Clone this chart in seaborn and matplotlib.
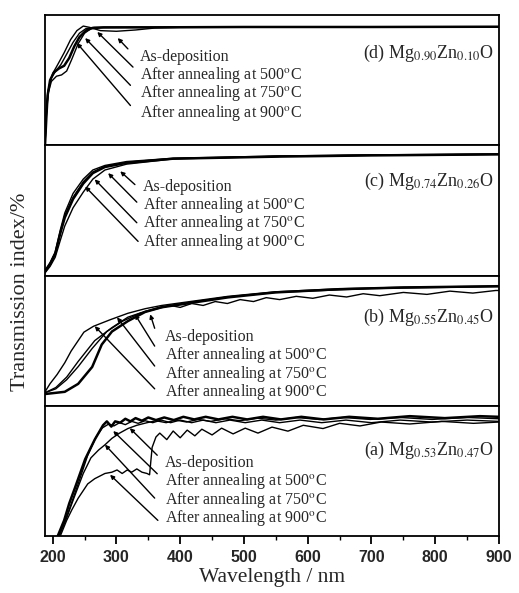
import matplotlib
matplotlib.use("Agg")
import matplotlib.pyplot as plt
import seaborn as sns
from matplotlib.ticker import MultipleLocator

sns.set_theme(style="white")
plt.rcParams["font.family"] = ["Liberation Serif", "DejaVu Serif"]
plt.rcParams["mathtext.fontset"] = "stix"

# ---- data (wavelength nm, transmission index, panel scale 0-100) ----
# (d) Mg0.90Zn0.10O
d_as_wl = [188, 190, 192, 196, 202, 210, 218, 226, 234, 242, 252, 262, 280, 350, 500, 700, 900]
d_as_t = [0, 20, 38, 50, 56, 59, 61, 67, 76, 83, 88, 90, 90.5, 90.5, 90.8, 90.8, 91]
d_500_wl = [188, 190, 193, 198, 205, 213, 222, 232, 242, 252, 265, 300, 500, 900]
d_500_t = [0, 24, 42, 52, 57, 62, 70, 79, 86, 89.5, 90.5, 90.5, 90.8, 91]
d_750_wl = [188, 190, 193, 198, 206, 214, 222, 230, 240, 250, 260, 275, 320, 900]
d_750_t = [0, 22, 40, 49, 53, 54, 57, 66, 78, 86, 89.5, 90.3, 90.5, 90.8]
d_900_wl = [188, 190, 194, 200, 208, 218, 228, 238, 248, 258, 275, 300, 330, 360, 400, 900]
d_900_t = [0, 26, 45, 55, 62, 71, 81, 88, 91.5, 90.5, 88, 87.5, 88.5, 90, 90.5, 90.8]

# (c) Mg0.74Zn0.26O
c_as_wl = [188, 196, 204, 212, 219, 232, 248, 263, 282, 316, 389, 556, 700, 900]
c_as_t = [3, 8.7, 16.7, 32.5, 44.4, 58.7, 70.6, 78.6, 83.3, 86.5, 89.7, 91.3, 92.2, 93]
c_500_wl = [188, 196, 204, 212, 219, 232, 248, 263, 282, 316, 389, 556, 700, 900]
c_500_t = [2, 7, 14, 27, 38, 52, 64, 74, 81, 85.5, 89.5, 91.5, 92.3, 93]
c_750_wl = [188, 196, 204, 212, 219, 232, 248, 263, 282, 316, 389, 556, 700, 900]
c_750_t = [4, 10, 18, 35, 48, 63, 74, 81, 84.5, 87.5, 90, 91.8, 92.6, 93.3]
c_900_wl = [188, 196, 204, 212, 219, 232, 248, 263, 282, 316, 389, 556, 700, 900]
c_900_t = [3, 9, 17, 33, 46, 60, 72, 79.5, 83.8, 86.8, 89.8, 91.5, 92.4, 93.1]

# (b) Mg0.55Zn0.45O
b_as_wl = [188, 196, 207, 219, 229, 249, 264, 290, 318, 345, 371, 423, 475, 549, 650, 750, 900]
b_as_t = [10.7, 17, 24, 33, 42, 56.5, 61, 66, 71, 74.5, 77, 80.5, 84, 87.5, 89.8, 91, 91.8]
b_500_wl = [188, 205, 222, 240, 266, 293, 318, 345, 371, 423, 475, 549, 700, 900]
b_500_t = [10, 14, 22, 34, 50, 60, 68, 72.5, 76, 80, 83.5, 87, 90, 91.5]
b_750_wl = [188, 205, 222, 240, 262, 285, 310, 337, 364, 385, 400, 418, 436, 455, 474, 494,
            515, 535, 556, 582, 608, 634, 661, 687, 713, 750, 787, 823, 859, 895, 900]
b_750_t = [10, 13, 20, 30, 44, 57, 65, 71, 74.5, 77, 75.5, 78.5, 77, 80, 78.5, 81.5,
           80, 83, 81.5, 84, 82.5, 85, 83.5, 86, 84.5, 87, 85.5, 88, 86.5, 88.5, 88.5]
b_900_wl = [188, 219, 240, 262, 277, 293, 318, 345, 371, 423, 475, 549, 650, 750, 900]
b_900_t = [9, 10.7, 16.8, 29.8, 47, 57, 65, 72, 75.6, 79.4, 83.2, 87, 89.5, 90.8, 91.8]

# (a) Mg0.53Zn0.47O
a_as_wl = [208, 218, 226, 235, 251, 266, 279, 285, 292, 298, 306, 314, 322, 330, 340, 350, 362,
           375, 390, 405, 422, 440, 460, 482, 505, 530, 558, 590, 625, 665, 710, 760, 815, 870, 900]
a_as_t = [0, 12, 25, 37, 59, 74, 85, 88, 84, 88, 87, 90, 88, 90.5, 88.5, 91, 89,
          91, 89, 91.5, 89.5, 91.5, 89.5, 91.5, 89.5, 91.5, 89.5, 91.5, 89.5, 91.5, 90, 92, 90.5, 92, 91.5]
a_500_wl = [210, 220, 230, 240, 255, 268, 278, 288, 296, 305, 314, 324, 334, 345, 357, 370, 385,
            400, 418, 436, 456, 478, 502, 528, 556, 588, 622, 660, 700, 745, 795, 850, 900]
a_500_t = [0, 12, 26, 40, 62, 76, 83, 86, 84.5, 87, 85.5, 88, 86.5, 88.5, 87, 89, 87,
           89, 87, 89, 87, 89, 87, 89, 87, 89, 87, 89, 87, 89, 87.5, 89, 88]
a_750_wl = [210, 222, 234, 248, 260, 272, 282, 293, 305, 318, 332, 348, 362, 378, 393, 410, 428,
            448, 470, 494, 520, 550, 582, 618, 656, 698, 745, 795, 850, 900]
a_750_t = [0, 14, 30, 48, 60, 66, 70, 75, 79, 82.5, 85, 87, 88.5, 87, 89, 87.5, 89.5,
           88, 90, 88.5, 90.5, 89, 91, 89.5, 91, 89.5, 91, 89.5, 91, 90]
a_900_wl = [212, 222, 230, 240, 255, 266, 282, 293, 301, 309, 317, 324, 332, 340, 348, 352,
            356, 362, 368, 379, 389, 400, 411, 423, 434, 450, 465, 483, 502, 522, 544,
            569, 593, 624, 650, 682, 715, 760, 810, 860, 900]
a_900_t = [0, 12, 20, 29, 40, 44, 48, 49, 50.7, 48, 50.7, 49, 51.5, 49, 48, 47,
           68, 76, 79, 74, 80.6, 75.4, 81.3, 76.9, 82, 77.6, 82.8, 78.4, 82.8, 79, 83.6,
           80.5, 85, 82.5, 86.5, 84.5, 87.5, 86, 88, 86.5, 87.5]

PANEL_TITLES = [
    "(d) Mg$_{0.90}$Zn$_{0.10}$O",
    "(c) Mg$_{0.74}$Zn$_{0.26}$O",
    "(b) Mg$_{0.55}$Zn$_{0.45}$O",
    "(a) Mg$_{0.53}$Zn$_{0.47}$O",
]
CURVE_LABELS = [
    "As-deposition",
    "After annealing at 500$^{\\mathrm{o}}$C",
    "After annealing at 750$^{\\mathrm{o}}$C",
    "After annealing at 900$^{\\mathrm{o}}$C",
]

PANELS = [
    [(d_as_wl, d_as_t), (d_500_wl, d_500_t), (d_750_wl, d_750_t), (d_900_wl, d_900_t)],
    [(c_as_wl, c_as_t), (c_500_wl, c_500_t), (c_750_wl, c_750_t), (c_900_wl, c_900_t)],
    [(b_as_wl, b_as_t), (b_500_wl, b_500_t), (b_750_wl, b_750_t), (b_900_wl, b_900_t)],
    [(a_as_wl, a_as_t), (a_500_wl, a_500_t), (a_750_wl, a_750_t), (a_900_wl, a_900_t)],
]
# which curve is drawn heavier in each panel
THICK = [0, 0, 3, 0]

# annotation layout: arrow tip on curve, arrow tail (data coords)
ARROW_TIPS = [
    [(302, 82.3), (270, 87), (251, 82.3), (238, 78.5)],
    [(306, 80), (287, 78.6), (266, 73.8), (251, 68.3)],
    [(353, 70.2), (329, 70.2), (301, 67.9), (266, 61.1)],
    [(321, 82.8), (295, 80.6), (282, 70.1), (290, 47)],
]
ARROW_TAILS = [
    [(318, 74), (326, 60), (322, 46), (322, 30.5)],
    [(329, 69.8), (332, 56.3), (332, 40.5), (334, 26.2)],
    [(360, 59.5), (360, 45.8), (360, 30.5), (360, 13)],
    [(364, 62), (364, 47.8), (360, 29.1), (365, 12)],
]
# label lines: left x and baseline of each line
TEXT_X = [337, 342, 376, 376]
TEXT_BASE = [
    [64.6, 50.8, 36.9, 21.8],
    [65.0, 51.0, 37.0, 23.0],
    [49.6, 35.6, 21.6, 7.6],
    [53.0, 38.8, 24.6, 10.4],
]
TITLE_Y = [70.8, 72, 68, 66]

W, H = 519, 593
fig, axes = plt.subplots(4, 1, figsize=(W / 100, H / 100), dpi=100, sharex=True)
fig.subplots_adjust(left=45 / W, right=499 / W, top=1 - 15 / H, bottom=1 - 536 / H, hspace=0)

for i, ax in enumerate(axes):
    for j, (wl, t) in enumerate(PANELS[i]):
        sns.lineplot(x=wl, y=t, ax=ax, color="black", estimator=None, sort=False,
                     linewidth=1.8 if j == THICK[i] else 1.0)
    for j, label in enumerate(CURVE_LABELS):
        ax.annotate("", xy=ARROW_TIPS[i][j], xytext=ARROW_TAILS[i][j],
                    arrowprops=dict(arrowstyle="-|>", color="black", lw=1.0,
                                    mutation_scale=6, shrinkA=0, shrinkB=0))
        ax.text(TEXT_X[i], TEXT_BASE[i][j], label, fontsize=11.5,
                ha="left", va="baseline")
    ax.text(892, TITLE_Y[i], PANEL_TITLES[i], fontsize=13, ha="right", va="center")
    ax.set_xlim(188, 900)
    ax.set_ylim(0, 100)
    ax.set_yticks([])
    ax.set_ylabel("")
    for sp in ax.spines.values():
        sp.set_linewidth(1.3)
        sp.set_color("black")
    ax.tick_params(axis="x", bottom=False, labelbottom=False)

ax = axes[-1]
ax.xaxis.set_major_locator(MultipleLocator(100))
ax.xaxis.set_minor_locator(MultipleLocator(50))
ax.tick_params(axis="x", which="major", bottom=True, labelbottom=True, direction="out",
               length=6, width=1.3, pad=4, labelsize=11.5, color="black")
ax.tick_params(axis="x", which="minor", bottom=True, direction="out", length=3, width=1.0,
               color="black")
for lab in ax.get_xticklabels():
    lab.set_fontfamily("Liberation Sans")
    lab.set_fontweight("bold")
ax.set_xlabel("Wavelength / nm", fontsize=15.5, labelpad=2)

fig.text(21 / W, 1 - 292 / H, "Transmission index/%", rotation=90, fontsize=16,
         ha="center", va="center")

fig.savefig("out.png", dpi=100)
